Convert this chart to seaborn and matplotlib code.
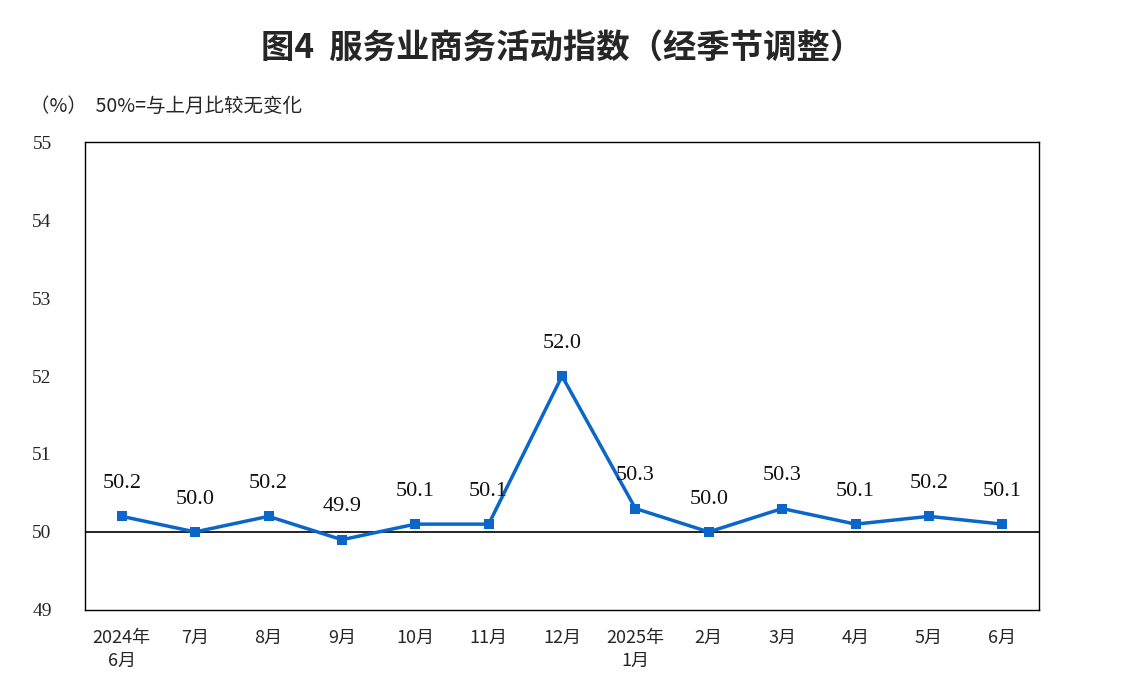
import matplotlib
matplotlib.use("Agg")
import matplotlib.pyplot as plt
from matplotlib import font_manager
import seaborn as sns
import pandas as pd

MONTHS = ["2024年\n6月", "7月", "8月", "9月", "10月", "11月", "12月",
          "2025年\n1月", "2月", "3月", "4月", "5月", "6月"]
VALUES = [50.2, 50.0, 50.2, 49.9, 50.1, 50.1, 52.0, 50.3, 50.0, 50.3, 50.1, 50.2, 50.1]
YTICKS = [49, 50, 51, 52, 53, 54, 55]

# find whatever CJK font name is registered
names = sorted({f.name for f in font_manager.fontManager.ttflist if "CJK" in f.name})
cjk = next((n for n in names if n.endswith("SC")), names[0] if names else "DejaVu Sans")

sns.set_theme(style="white")
plt.rcParams["font.family"] = ["Liberation Serif", cjk]
plt.rcParams["axes.unicode_minus"] = False

df = pd.DataFrame({"x": range(len(MONTHS)), "v": VALUES})

fig = plt.figure(figsize=(11.25, 6.97), dpi=100)
ax = fig.add_axes([0.0756, 0.125, 0.848, 0.671])

ax.axhline(50, color="black", lw=1.2, zorder=1)
sns.lineplot(data=df, x="x", y="v", ax=ax, color="#0A66C8", lw=2.5,
             marker="s", markersize=7, markeredgewidth=0, zorder=3)

for i, v in enumerate(VALUES):
    ax.text(i, v + 0.3, f"{v:.1f}", ha="center", va="bottom", fontsize=16,
            color="#111111", family="Liberation Serif")

ax.set_xlim(-0.5, len(MONTHS) - 0.5)
ax.set_ylim(49, 55)
ax.set_yticks(YTICKS)
ax.set_yticklabels([str(t) for t in YTICKS], fontsize=14, family="Liberation Serif")
ax.set_xticks(range(len(MONTHS)))
ax.set_xticklabels(MONTHS, fontsize=13, linespacing=1.3, family=cjk)
ax.set_xlabel("")
ax.set_ylabel("")
ax.tick_params(axis="y", pad=18)
ax.tick_params(axis="x", pad=8)
for s in ax.spines.values():
    s.set_color("black")
    s.set_linewidth(1.0)

fig.text(0.5, 0.93, "图4  服务业商务活动指数（经季节调整）", ha="center", va="center",
         fontsize=24, fontweight="bold", family=cjk)
fig.text(0.027, 0.848, "（%）  50%=与上月比较无变化", ha="left", va="center",
         fontsize=14, family=cjk)

fig.savefig("out.png", dpi=100)
